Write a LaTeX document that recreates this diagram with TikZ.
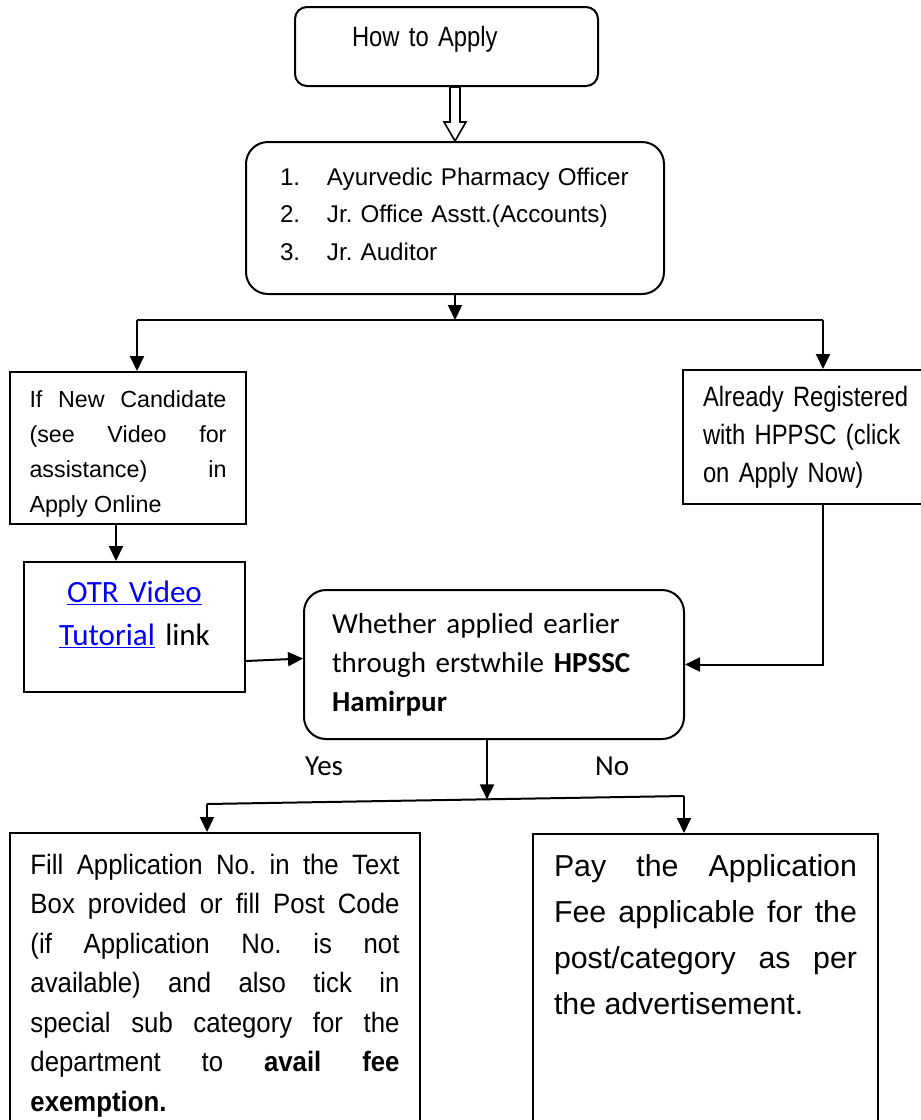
\documentclass[tikz,border=0pt]{standalone}
\usepackage{fontspec}
\setmainfont{Liberation Sans}
\newfontfamily\narrowfont{Liberation Sans}[FakeStretch=0.85]
\newfontfamily\semifont{Liberation Sans}[FakeStretch=0.92]
\newfontfamily\calibrifont{Carlito}
\usetikzlibrary{arrows.meta,calc,positioning}
\tikzset{>={Triangle[width=14pt,length=15pt]}}
\colorlet{penColor}{black}
\definecolor{linkColor}{RGB}{0,0,255}
\tikzset{
	box/.style={draw=penColor, line width=2pt, inner sep=0pt},
	roundbox/.style={box, rounded corners=#1},
	flow/.style={draw=penColor, line width=2pt},
}
\tolerance=10000
\hbadness=10000
\frenchspacing

\begin{document}
\begin{tikzpicture}[x=1pt,y=-1pt]
		\useasboundingbox (0,0) rectangle (921,1120);
		\clip (0,0) rectangle (921,1120);
		\node[roundbox=12pt, minimum width=303pt, minimum height=79pt, text width=189pt, align=left, text depth=20pt, font=\narrowfont\fontsize{28}{34}\selectfont] (apply) at (446.5,46.5) {How to Apply};
		\node[roundbox=22pt, minimum width=418pt, minimum height=152pt, text width=350pt, align=left, text depth=83pt, font=\fontsize{24.2}{37.5}\selectfont] (posts) at (455,218) {\makebox[47pt][l]{1.}Ayurvedic Pharmacy Officer\\ \makebox[47pt][l]{2.}Jr. Office Asstt.(Accounts)\\ \makebox[47pt][l]{3.}Jr. Auditor};
		\node[box, minimum width=236pt, minimum height=152pt, text width=197pt, align=justify, text depth=97pt, font=\fontsize{23.3}{34.7}\selectfont] (newcand) at (128,448) {If New Candidate\linebreak (see Video for\linebreak assistance) in\linebreak Apply Online};
		\node[box, minimum width=280pt, minimum height=134pt, text width=240pt, align=left, font=\narrowfont\fontsize{28}{38}\selectfont] (registered) at (823,437) {Already Registered\\ with HPPSC (click\\ on Apply Now)};
		\node[box, minimum width=221pt, minimum height=130pt, text width=200pt, align=center, text depth=70pt, font=\calibrifont\fontsize{31}{42.5}\selectfont] (otr) at (134.5,627) {\textcolor{linkColor}{\underline{OTR Video}}\\ \textcolor{linkColor}{\underline{Tutorial}} link};
		\node[roundbox=22pt, minimum width=380pt, minimum height=149pt, text width=324pt, align=left, font=\calibrifont\fontsize{29}{39}\selectfont] (earlier) at (494,664.5) {Whether applied earlier\\ through erstwhile \textbf{HPSSC}\\ \textbf{Hamirpur}};
		\node[anchor=base west, inner sep=0pt, font=\calibrifont\fontsize{29}{35}\selectfont] (yes) at (305,775) {Yes};
		\node[anchor=base west, inner sep=0pt, font=\calibrifont\fontsize{29}{35}\selectfont] (no) at (595,775) {No};
		\node[box, anchor=north, inner xsep=20.5pt, inner ysep=21pt, text width=369pt, align=justify, font=\semifont\fontsize{28}{39.5}\selectfont] (fillno) at (215,832) {Fill Application No. in the Text\linebreak Box provided or fill Post Code\linebreak (if Application No. is not\linebreak available) and also tick in\linebreak special sub category for the\linebreak department to \textbf{avail fee}\linebreak \textbf{exemption.}};
		\node[box, anchor=north, inner xsep=21pt, inner ysep=21pt, text width=303pt, align=justify, text depth=300pt, font=\fontsize{30.3}{46}\selectfont] (payfee) at (705.5,833) {Pay the Application\linebreak Fee applicable for the\linebreak post/category as per\linebreak the advertisement.};
		\draw[penColor, line width=1.6pt, fill=white] (posts.north) -- ++(-11,-19) -- ++(6,0) -- ($(posts.north |- apply.south)+(-5,0)$) -- ++(10,0) -- ($(posts.north)+(5,-19)$) -- ++(6,0) -- cycle;
		\coordinate (split) at (455,320);
		\coordinate (splitL) at (137,320);
		\coordinate (splitR) at (823,320);
		\draw[flow,->] (posts.south) -- (split);
		\draw[flow] (splitL) -- (splitR);
		\draw[flow,->] (splitL) -- (splitL |- newcand.north);
		\draw[flow,->] (splitR) -- (registered.north);
		\coordinate (ncout) at ($(newcand.south)+(-12,0)$);
		\draw[flow,->] (ncout) -- (ncout |- otr.north);
		\draw[flow,->] ($(otr.east)+(0,34)$) -- ($(earlier.west)+(0,-6)$);
		\draw[flow,->] (registered.south) |- (earlier.east);
		\coordinate (yesEnd) at (207,804);
		\coordinate (noEnd) at (684,796);
		\coordinate (merge) at (487,799.4);
		\draw[flow,->] (merge |- earlier.south) -- (merge);
		\draw[flow] (yesEnd) -- (noEnd);
		\draw[flow,->] (yesEnd) -- (yesEnd |- fillno.north);
		\draw[flow,->] (noEnd) -- (noEnd |- payfee.north);
\end{tikzpicture}
\end{document}
